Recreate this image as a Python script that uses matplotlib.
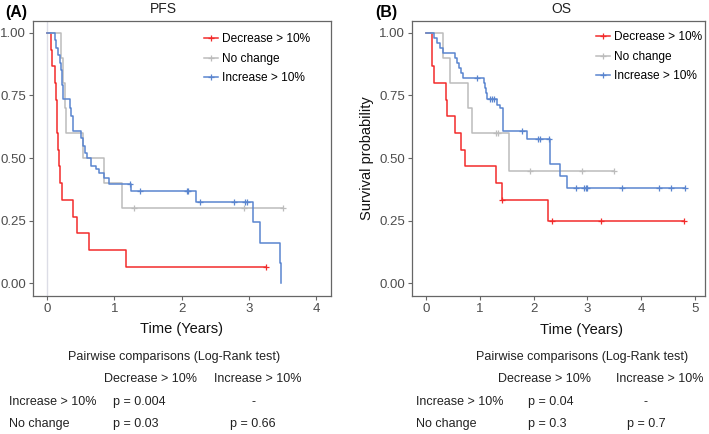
import numpy as np
import matplotlib
matplotlib.use("Agg")
import matplotlib.pyplot as plt
from matplotlib import font_manager

# ---- data (Kaplan-Meier steps) ----
groups = ["Decrease > 10%", "No change", "Increase > 10%"]
colors = ["#f22b2b", "#bcbcbc", "#5a85cf"]

# PFS
pfs_dec_t = [0, 0.06, 0.08, 0.12, 0.14, 0.15, 0.155, 0.17, 0.18, 0.20, 0.23, 0.39, 0.45, 0.63, 1.18]
pfs_dec_s = [1.0, 0.933, 0.867, 0.80, 0.733, 0.667, 0.60, 0.533, 0.467, 0.40, 0.333, 0.267, 0.20, 0.133, 0.067]
pfs_dec_end = 3.26
pfs_dec_cens = [3.26]

pfs_noc_t = [0, 0.21, 0.24, 0.27, 0.28, 0.54, 0.85, 1.11]
pfs_noc_s = [1.0, 0.9, 0.8, 0.7, 0.6, 0.5, 0.4, 0.3]
pfs_noc_end = 3.5
pfs_noc_cens = [1.29, 2.92, 3.5]

pfs_inc_t = [0, 0.12, 0.13, 0.16, 0.19, 0.21, 0.22, 0.23, 0.24, 0.34, 0.36, 0.38, 0.51, 0.53, 0.56,
             0.60, 0.66, 0.73, 0.78, 0.85, 0.92, 1.25, 2.22, 3.06, 3.16, 3.46, 3.48]
pfs_inc_s = [1.0, 0.97, 0.94, 0.91, 0.88, 0.85, 0.82, 0.79, 0.735, 0.70, 0.67, 0.61, 0.58, 0.55, 0.52,
             0.50, 0.47, 0.455, 0.44, 0.42, 0.396, 0.367, 0.326, 0.245, 0.163, 0.082, 0.0]
pfs_inc_end = 3.48
pfs_inc_cens = [1.23, 1.38, 2.08, 2.10, 2.28, 2.78, 2.94, 2.97]

# OS
os_dec_t = [0, 0.11, 0.12, 0.15, 0.38, 0.40, 0.54, 0.66, 0.72, 1.30, 1.41, 2.27]
os_dec_s = [1.0, 0.933, 0.867, 0.80, 0.733, 0.667, 0.60, 0.533, 0.467, 0.40, 0.333, 0.25]
os_dec_end = 4.8
os_dec_cens = [1.42, 2.35, 3.25, 4.8]

os_noc_t = [0, 0.31, 0.45, 0.79, 0.85, 1.54]
os_noc_s = [1.0, 0.9, 0.8, 0.7, 0.6, 0.45]
os_noc_end = 3.5
os_noc_cens = [1.31, 1.34, 1.93, 2.91, 3.5]

os_inc_t = [0, 0.14, 0.21, 0.26, 0.32, 0.54, 0.58, 0.62, 0.66, 0.69, 1.07, 1.10, 1.12, 1.14,
            1.33, 1.38, 1.44, 1.87, 2.30, 2.31, 2.50, 2.63]
os_inc_s = [1.0, 0.98, 0.96, 0.94, 0.92, 0.90, 0.88, 0.86, 0.84, 0.82, 0.80, 0.78, 0.76, 0.735,
            0.71, 0.70, 0.61, 0.575, 0.525, 0.477, 0.43, 0.382]
os_inc_end = 4.82
os_inc_cens = [0.94, 1.19, 1.23, 1.27, 1.79, 2.09, 2.12, 2.29, 2.79, 2.94, 2.97, 3.0, 3.64, 4.34, 4.55, 4.82]

# pairwise log-rank p values
col_labels = ["Decrease > 10%", "Increase > 10%"]
row_labels = ["Increase > 10%", "No change"]
pfs_p = [["p = 0.004", "-"], ["p = 0.03", "p = 0.66"]]
os_p = [["p = 0.04", "-"], ["p = 0.3", "p = 0.7"]]

# ---- fonts ----
plt.rcParams['font.family'] = ['Liberation Sans', 'DejaVu Sans']
names = {f.name for f in font_manager.fontManager.ttflist}
narrow = 'Liberation Sans Narrow' if 'Liberation Sans Narrow' in names else 'Liberation Sans'
tab_size = 10 if narrow == 'Liberation Sans Narrow' else 9

W, H = 709, 434
fig = plt.figure(figsize=(W / 100, H / 100), dpi=100)


def fx(x):
    return x / W


def fy(y):
    return 1 - y / H


def draw_km(ax, t, s, end, cens, color):
    tt = list(t) + [end]
    ss = list(s) + [s[-1]]
    ax.step(tt, ss, where='post', color=color, lw=1.1)
    t_arr = np.array(t)
    cy = [s[np.searchsorted(t_arr, c, side='right') - 1] for c in cens]
    ax.plot(cens, cy, ls='none', marker='+', ms=5, mew=0.9, color=color)


def style_axes(ax, xlim, xticks):
    ax.set_xlim(*xlim)
    ax.set_ylim(-0.05, 1.047)
    ax.set_xticks(xticks)
    ax.set_yticks([0, 0.25, 0.5, 0.75, 1.0])
    ax.set_yticklabels(["0.00", "0.25", "0.50", "0.75", "1.00"])
    for sp in ax.spines.values():
        sp.set_color("#666666")
        sp.set_linewidth(0.9)
    ax.tick_params(colors="#666666", labelcolor="#4d4d4d", labelsize=9.5, length=3, width=0.8, pad=2)


def legend(ax, x0, y0):
    handles = [plt.Line2D([], [], color=c, lw=1.1, marker='+', ms=5, mew=0.9) for c in colors]
    ax.legend(handles, groups, loc='upper left', bbox_to_anchor=(x0, y0), frameon=False,
              fontsize=8.6, handlelength=1.17, handletextpad=0.34, labelspacing=0.62,
              borderaxespad=0, borderpad=0)


def table(p_vals, title_x, hdr_x, row_x, val_x):
    fig.text(fx(title_x), fy(357), "Pairwise comparisons (Log-Rank test)", ha='center', va='center',
             family=narrow, fontsize=tab_size, color='#222222')
    for j, lab in enumerate(col_labels):
        fig.text(fx(hdr_x[j]), fy(379), lab, ha='center', va='center', family=narrow,
                 fontsize=tab_size, color='#222222')
    for i, lab in enumerate(row_labels):
        y = 402 + 22 * i
        fig.text(fx(row_x), fy(y), lab, ha='left', va='center', family=narrow,
                 fontsize=tab_size, color='#222222')
        for j in range(2):
            fig.text(fx(val_x[j]), fy(y), p_vals[i][j], ha='left' if j == 0 else 'center',
                     va='center', family=narrow, fontsize=tab_size, color='#222222')


# ---- panel A: PFS ----
axA = fig.add_axes([fx(33), fy(296), fx(331 - 33), (296 - 21) / H])
axA.axvline(0, color="#dcdde6", lw=1, zorder=0)
draw_km(axA, pfs_dec_t, pfs_dec_s, pfs_dec_end, pfs_dec_cens, colors[0])
draw_km(axA, pfs_noc_t, pfs_noc_s, pfs_noc_end, pfs_noc_cens, colors[1])
draw_km(axA, pfs_inc_t, pfs_inc_s, pfs_inc_end, pfs_inc_cens, colors[2])
style_axes(axA, (-0.208, 4.22), [0, 1, 2, 3, 4])
legend(axA, 0.574, 0.955)
axA.set_xlabel("Time (Years)", fontsize=10.5, color='#111111', labelpad=5)
fig.text(fx(163), fy(9), "PFS", ha='center', va='center', fontsize=10, color='#222222')
fig.text(fx(5), fy(13), "(A)", ha='left', va='center', fontsize=11.5, weight='bold')
table(pfs_p, 174, [151, 258], 9, [113, 253])

# ---- panel B: OS ----
axB = fig.add_axes([fx(412), fy(296), fx(705 - 412), (296 - 21) / H])
draw_km(axB, os_dec_t, os_dec_s, os_dec_end, os_dec_cens, colors[0])
draw_km(axB, os_noc_t, os_noc_s, os_noc_end, os_noc_cens, colors[1])
draw_km(axB, os_inc_t, os_inc_s, os_inc_end, os_inc_cens, colors[2])
style_axes(axB, (-0.26, 5.19), [0, 1, 2, 3, 4, 5])
legend(axB, 0.628, 0.962)
axB.set_ylabel("Survival probability", fontsize=10.5, color='#111111', labelpad=4)
fig.text(fx(582), fy(330), "Time (Years)", ha='center', va='center', fontsize=10.5, color='#111111')
fig.text(fx(561), fy(9), "OS", ha='center', va='center', fontsize=10, color='#222222')
fig.text(fx(375), fy(13), "(B)", ha='left', va='center', fontsize=11.5, weight='bold')
table(os_p, 582, [545, 660], 416, [528, 646])

fig.savefig("out.png", dpi=100)
